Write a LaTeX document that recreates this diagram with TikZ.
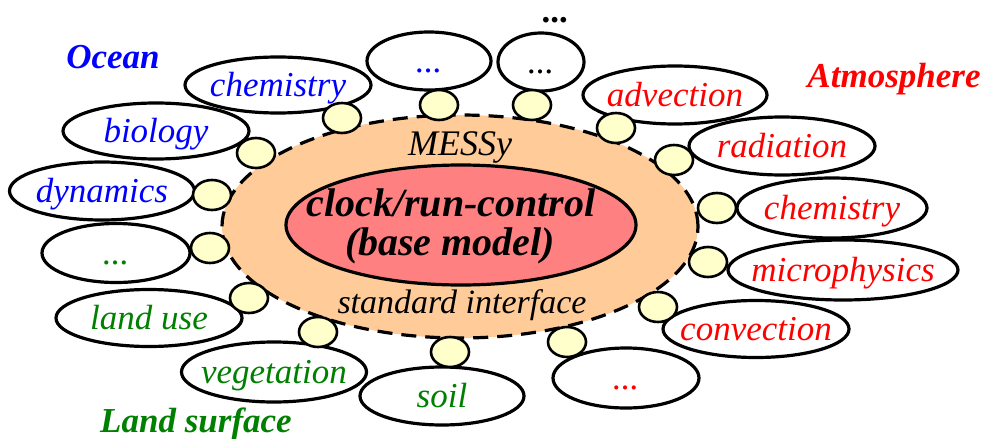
\documentclass[tikz,border=0pt]{standalone}
\usepackage{fontspec}
\setmainfont{Liberation Serif}
\usetikzlibrary{shapes.geometric}
\definecolor{oceanblue}{RGB}{0,0,255}
\definecolor{atmred}{RGB}{255,0,0}
\definecolor{landgreen}{RGB}{0,128,0}
\definecolor{ifacebg}{RGB}{255,204,153}
\definecolor{basebg}{RGB}{255,128,128}
\definecolor{plugbg}{RGB}{255,255,204}
\begin{document}
\begin{tikzpicture}[x=1pt,y=-1pt,
  module/.style={ellipse,draw,line width=3.2pt,fill=white,inner sep=0pt},
  plug/.style={ellipse,draw,line width=2.6pt,fill=plugbg,minimum width=38pt,minimum height=30pt,inner sep=0pt},
  txt/.style={font=\fontsize{35}{40}\selectfont\itshape,text height=24pt,text depth=2pt,inner sep=0pt},
  region/.style={font=\fontsize{35}{40}\selectfont\bfseries\itshape,anchor=base,inner sep=0pt},
  core/.style={font=\fontsize{40}{44}\selectfont\bfseries\itshape,anchor=base,inner sep=0pt},
  iface/.style={font=\fontsize{34}{40}\selectfont\itshape,anchor=base,inner sep=0pt}]
  \useasboundingbox (0,0) rectangle (986,439);
  % MESSy interface and base model
  \node[ellipse,draw,line width=3.2pt,dash pattern=on 15pt off 9pt,fill=ifacebg,minimum width=476pt,minimum height=223pt] (messy) at (460,226.5) {};
  \node[ellipse,draw,line width=3.2pt,fill=basebg,minimum width=350pt,minimum height=120pt] (base) at (461,225) {};
  \node[iface,font=\fontsize{36}{40}\selectfont\itshape] (messyname) at (460,155) {MESSy};
  \node[core] (clock) at (451,216) {clock/run-control};
  \node[core] (basename) at (450,255) {(base model)};
  \node[iface] (stdif) at (462,313) {standard interface};
  % ocean submodels
  \node[module,minimum width=186pt,minimum height=56pt,label={[txt,oceanblue]center:chemistry}] (ochem) at (278,85) {};
  \node[module,minimum width=124pt,minimum height=58pt,label={[txt,oceanblue]center:...}] (odots) at (429,61) {};
  \node[module,minimum width=186pt,minimum height=56pt,label={[txt,oceanblue]center:biology}] (obio) at (156,131) {};
  \node[module,minimum width=185pt,minimum height=58pt,label={[txt,oceanblue]center:dynamics}] (odyn) at (102,191) {};
  % further submodels
  \node[module,minimum width=86pt,minimum height=58pt,label={[txt]center:...}] (xdots) at (541,62) {};
  % atmosphere submodels
  \node[module,minimum width=184pt,minimum height=58pt,label={[txt,atmred]center:advection}] (aadv) at (675,95) {};
  \node[module,minimum width=186pt,minimum height=58pt,label={[txt,atmred]center:radiation}] (arad) at (782,146) {};
  \node[module,minimum width=190pt,minimum height=60pt,label={[txt,atmred]center:chemistry}] (achem) at (832,208) {};
  \node[module,minimum width=230pt,minimum height=60pt,label={[txt,atmred]center:microphysics}] (amicro) at (843,270) {};
  \node[module,minimum width=186pt,minimum height=57pt,label={[txt,atmred]center:convection}] (aconv) at (756,329) {};
  \node[module,minimum width=146pt,minimum height=60pt,label={[txt,atmred]center:...}] (adots) at (626,378) {};
  % land surface submodels
  \node[module,minimum width=164pt,minimum height=58pt,label={[txt,landgreen]center:soil}] (lsoil) at (442,396) {};
  \node[module,minimum width=185pt,minimum height=60pt,label={[txt,landgreen]center:vegetation}] (lveg) at (274,372) {};
  \node[module,minimum width=186pt,minimum height=57pt,label={[txt,landgreen]center:land use}] (luse) at (149,318) {};
  \node[module,minimum width=148pt,minimum height=59pt,label={[txt,landgreen]center:...}] (ldots) at (116,253) {};
  % plugs on the interface
  \node[plug] (pochem) at (342,118) {};
  \node[plug] (podots) at (439,105) {};
  \node[plug] (pxdots) at (532,105) {};
  \node[plug] (paadv) at (616,128) {};
  \node[plug] (parad) at (674,160) {};
  \node[plug] (pachem) at (717,208) {};
  \node[plug] (pamicro) at (708,262) {};
  \node[plug] (paconv) at (658,307) {};
  \node[plug] (padots) at (567,342) {};
  \node[plug] (plsoil) at (450,352) {};
  \node[plug] (plveg) at (318,332) {};
  \node[plug] (pluse) at (249,298) {};
  \node[plug] (pldots) at (210,248) {};
  \node[plug] (podyn) at (212,195) {};
  \node[plug] (pobio) at (256,153) {};
  % region labels
  \node[region,oceanblue] (ocean) at (113,68) {Ocean};
  \node[region,atmred] (atmos) at (894,87) {Atmosphere};
  \node[region,landgreen] (land) at (196,432) {Land surface};
  \node[region] (more) at (556,23) {...};
\end{tikzpicture}
\end{document}
